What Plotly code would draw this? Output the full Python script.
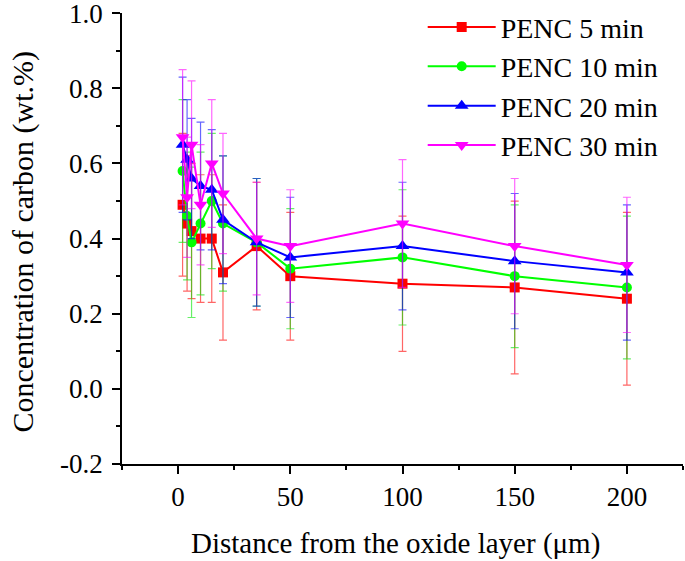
import plotly.graph_objects as go

distance = [2, 4, 6, 10, 15, 20, 35, 50, 100, 150, 200]
series_names = ["PENC 5 min", "PENC 10 min", "PENC 20 min", "PENC 30 min"]
c5 = [0.49, 0.44, 0.42, 0.40, 0.40, 0.31, 0.38, 0.30, 0.28, 0.27, 0.24]
c5_err = [0.19, 0.18, 0.18, 0.17, 0.17, 0.18, 0.17, 0.17, 0.18, 0.23, 0.23]
c10 = [0.58, 0.46, 0.39, 0.44, 0.50, 0.44, 0.39, 0.32, 0.35, 0.30, 0.27]
c10_err = [0.19, 0.17, 0.20, 0.19, 0.18, 0.18, 0.17, 0.16, 0.18, 0.19, 0.19]
c20 = [0.65, 0.61, 0.56, 0.54, 0.53, 0.45, 0.39, 0.35, 0.38, 0.34, 0.31]
c20_err = [0.18, 0.16, 0.16, 0.17, 0.16, 0.17, 0.17, 0.16, 0.17, 0.18, 0.18]
c30 = [0.67, 0.51, 0.65, 0.49, 0.60, 0.52, 0.40, 0.38, 0.44, 0.38, 0.33]
c30_err = [0.18, 0.16, 0.17, 0.16, 0.17, 0.16, 0.15, 0.15, 0.17, 0.18, 0.18]

y_tick_vals = [-0.2, 0.0, 0.2, 0.4, 0.6, 0.8, 1.0]
y_tick_text = ["-0.2", "0.0", "0.2", "0.4", "0.6", "0.8", "1.0"]
x_tick_vals = [0, 50, 100, 150, 200]
x_title = "Distance from the oxide layer (μm)"
y_title = "Concentration of carbon (wt.%)"

colors = ["#FF0000", "#00FF00", "#0000FF", "#FF00FF"]
err_colors = ["rgba(255,0,0,0.6)", "rgba(0,230,0,0.6)", "rgba(0,0,255,0.6)", "rgba(255,0,255,0.6)"]
symbols = ["square", "circle", "triangle-up", "triangle-down"]
sizes = [10, 10, 12, 12]
values = [c5, c10, c20, c30]
errors = [c5_err, c10_err, c20_err, c30_err]

FONT = "Liberation Serif, Times New Roman, serif"

fig = go.Figure()
for name, y, e, col, ecol, sym, sz in zip(series_names, values, errors, colors, err_colors, symbols, sizes):
    fig.add_trace(go.Scatter(
        x=distance, y=y, name=name, mode="lines+markers",
        line=dict(color=col, width=2),
        marker=dict(symbol=sym, size=sz, color=col),
        error_y=dict(type="data", array=e, visible=True, color=ecol, thickness=1.2, width=4),
    ))

fig.update_layout(
    width=685, height=561,
    margin=dict(l=122, r=2, t=13, b=97),
    paper_bgcolor="white", plot_bgcolor="white",
    font=dict(family=FONT, size=27, color="black"),
    legend=dict(x=0.536, y=1.024, xanchor="left", yanchor="top",
                bgcolor="rgba(0,0,0,0)", font=dict(family=FONT, size=28),
                itemwidth=68, tracegroupgap=0),
    showlegend=True,
    annotations=[
        dict(text=x_title, xref="paper", yref="paper", x=0.487, y=-0.176,
             xanchor="center", yanchor="middle", showarrow=False,
             font=dict(family=FONT, size=29, color="black")),
        dict(text=y_title, xref="paper", yref="paper", x=-0.176, y=0.494,
             xanchor="center", yanchor="middle", showarrow=False, textangle=-90,
             font=dict(family=FONT, size=30, color="black")),
    ],
)
fig.update_xaxes(
    range=[-25, 225], tickmode="array", tickvals=x_tick_vals,
    showline=True, linecolor="black", linewidth=1.5, mirror=False,
    ticks="outside", ticklen=8, tickwidth=1.5, tickcolor="black",
    minor=dict(ticks="outside", ticklen=4, tickwidth=1.5, tickcolor="black", dtick=25, tick0=0),
    showgrid=False, zeroline=False, automargin=False,
    tickfont=dict(family=FONT, size=27),
)
fig.update_yaxes(
    range=[-0.2, 1.0005], tickmode="array", tickvals=y_tick_vals, ticktext=y_tick_text,
    showline=True, linecolor="black", linewidth=1.5, mirror=False,
    ticks="outside", ticklen=8, tickwidth=1.5, tickcolor="black",
    minor=dict(ticks="outside", ticklen=4, tickwidth=1.5, tickcolor="black", dtick=0.1, tick0=0),
    showgrid=False, zeroline=False, automargin=False, ticklabeloverflow="allow",
    tickfont=dict(family=FONT, size=27), ticklabelstandoff=4,
)

fig.write_html("out.html", config={"displayModeBar": False},
               post_script="document.body.style.margin='0';document.body.style.overflow='hidden';")
